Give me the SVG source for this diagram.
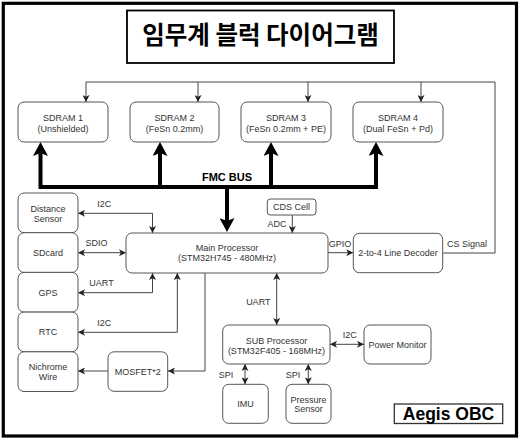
<svg xmlns="http://www.w3.org/2000/svg" width="521" height="441" viewBox="0 0 521 441">
<style>
.box{fill:#fff;stroke:#555;stroke-width:1}
.t{font-family:"Liberation Sans",Arial,sans-serif;font-size:9px;fill:#333;text-anchor:middle}
.lbl{font-family:"Liberation Sans",Arial,sans-serif;font-size:9px;fill:#333;text-anchor:middle}
.ln{fill:none;stroke:#444;stroke-width:1}
.a{marker-end:url(#ah)}
.b{marker-start:url(#ah);marker-end:url(#ah)}
.bus{fill:none;stroke:#000;stroke-width:4;stroke-linejoin:miter}
</style>
<defs>
<marker id="ah" viewBox="0 0 10 10" refX="10" refY="5" markerWidth="7" markerHeight="7" markerUnits="userSpaceOnUse" orient="auto-start-reverse">
<path d="M0,0 L10,5 L0,10 L2.5,5 z" fill="#222"/>
</marker>
<marker id="big" viewBox="0 0 14 15" refX="3" refY="7.5" markerWidth="14" markerHeight="15" markerUnits="userSpaceOnUse" orient="auto-start-reverse">
<path d="M0,0 L14,7.5 L0,15 L3,7.5 z" fill="#000"/>
</marker>
</defs>
<rect width="521" height="441" fill="#fff"/>
<rect x="3.3" y="3.3" width="513.2" height="432.7" fill="none" stroke="#000" stroke-width="3.2"/>
<g id="title">
<rect x="127" y="10.5" width="267" height="52.5" fill="#fff" stroke="#000" stroke-width="1.8"/>
<text x="260.5" y="43.5" font-family="'Noto Sans CJK KR','Noto Sans',sans-serif" font-size="24.5" font-weight="bold" text-anchor="middle" fill="#000">임무계 블럭 다이어그램</text>
</g>
<g id="connectors">
<path class="bus" d="M40.5,153 V187 H376 V153" marker-start="url(#big)" marker-end="url(#big)"/>
<path class="bus" d="M160,187 V153" marker-end="url(#big)"/>
<path class="bus" d="M271,187 V153" marker-end="url(#big)"/>
<path class="bus" d="M227,185 V221" marker-end="url(#big)"/>
<path class="ln" d="M443,253 H495 V82 H86"/>
<path class="ln a" d="M86,82 V102"/>
<path class="ln a" d="M198,82 V102"/>
<path class="ln a" d="M308,82 V102"/>
<path class="ln a" d="M421,82 V102"/>
<path class="ln b" d="M78,213.3 H152.5 V233"/>
<path class="ln b" d="M78,252.7 H126"/>
<path class="ln b" d="M78,292.7 H152.5 V273"/>
<path class="ln b" d="M78,332.3 H177.3 V273"/>
<path class="ln a" d="M205,273 V371 H168"/>
<path class="ln a" d="M108,371 H78"/>
<path class="ln a" d="M292.3,215 V233"/>
<path class="ln a" d="M328,252.7 H353.3"/>
<path class="ln b" d="M276.7,273 V325"/>
<path class="ln b" d="M330,344.3 H364"/>
<path class="ln b" d="M245,364 V384.3"/>
<path class="ln b" d="M308.3,364 V384.3"/>
<text class="lbl" x="227" y="181" font-size="11" font-weight="bold" fill="#000" style="font-size:11px;font-weight:bold;fill:#000">FMC BUS</text>
<text class="lbl" x="104.3" y="206.5">I2C</text>
<text class="lbl" x="96.5" y="246.3">SDIO</text>
<text class="lbl" x="101.5" y="286">UART</text>
<text class="lbl" x="104.3" y="325.5">I2C</text>
<text class="lbl" x="277" y="226.5">ADC</text>
<text class="lbl" x="340" y="246.5">GPIO</text>
<text class="lbl" x="467" y="246.5">CS Signal</text>
<text class="lbl" x="258.3" y="305">UART</text>
<text class="lbl" x="349.7" y="338">I2C</text>
<text class="lbl" x="226" y="378">SPI</text>
<text class="lbl" x="293" y="378">SPI</text>
</g>
<g id="sdram1"><rect class="box" x="18" y="102" width="90" height="40" rx="6"/><text class="t" x="63" y="121">SDRAM 1</text><text class="t" x="63" y="131.5">(Unshielded)</text></g>
<g id="sdram2"><rect class="box" x="130" y="102" width="89" height="40" rx="6"/><text class="t" x="174.5" y="121">SDRAM 2</text><text class="t" x="174.5" y="131.5">(FeSn 0.2mm)</text></g>
<g id="sdram3"><rect class="box" x="241" y="102" width="90" height="40" rx="6"/><text class="t" x="286" y="121">SDRAM 3</text><text class="t" x="286" y="131.5">(FeSn 0.2mm + PE)</text></g>
<g id="sdram4"><rect class="box" x="353" y="102" width="90" height="40" rx="6"/><text class="t" x="398" y="121">SDRAM 4</text><text class="t" x="398" y="131.5">(Dual FeSn + Pd)</text></g>
<g id="distance"><rect class="box" x="18" y="193" width="60" height="39.7" rx="6"/><text class="t" x="48" y="211.5">Distance</text><text class="t" x="48" y="221.5">Sensor</text></g>
<g id="sdcard"><rect class="box" x="18" y="232.7" width="60" height="39.7" rx="6"/><text class="t" x="48" y="255.8">SDcard</text></g>
<g id="gps"><rect class="box" x="18" y="272.4" width="60" height="39.7" rx="6"/><text class="t" x="48" y="295.5">GPS</text></g>
<g id="rtc"><rect class="box" x="18" y="312.1" width="60" height="39.7" rx="6"/><text class="t" x="48" y="335.2">RTC</text></g>
<g id="nichrome"><rect class="box" x="18" y="351.8" width="60" height="39.7" rx="6"/><text class="t" x="48" y="369.8">Nichrome</text><text class="t" x="48" y="379.6">Wire</text></g>
<g id="mosfet"><rect class="box" x="108" y="351.8" width="59.7" height="39.5" rx="6"/><text class="t" x="137.8" y="374.7">MOSFET*2</text></g>
<g id="main"><rect class="box" x="126" y="233" width="202" height="40" rx="6"/><text class="t" x="227" y="251">Main Processor</text><text class="t" x="227" y="261">(STM32H745 - 480MHz)</text></g>
<g id="cds"><rect class="box" x="267.3" y="199" width="48.7" height="16" rx="3"/><text class="t" x="291.6" y="210.3">CDS Cell</text></g>
<g id="decoder"><rect class="box" x="353.3" y="233.3" width="89.4" height="39.4" rx="6"/><text class="t" x="398" y="256.2">2-to-4 Line Decoder</text></g>
<g id="sub"><rect class="box" x="222.7" y="325" width="107.3" height="39" rx="6"/><text class="t" x="276.4" y="343.7">SUB Processor</text><text class="t" x="276.4" y="353.7">(STM32F405 - 168MHz)</text></g>
<g id="power"><rect class="box" x="364" y="325" width="67" height="39" rx="6"/><text class="t" x="397.5" y="347.7">Power Monitor</text></g>
<g id="imu"><rect class="box" x="222.7" y="384.3" width="45.6" height="39" rx="6"/><text class="t" x="245.5" y="407">IMU</text></g>
<g id="pressure"><rect class="box" x="286" y="384.3" width="45" height="39" rx="6"/><text class="t" x="308.5" y="402.5">Pressure</text><text class="t" x="308.5" y="412">Sensor</text></g>
<g id="aegis"><rect x="394.3" y="404" width="108.4" height="19.5" fill="#fff" stroke="#333" stroke-width="1.3"/><text x="448.5" y="420" font-family="'Liberation Sans',Arial,sans-serif" font-size="17.5" font-weight="bold" text-anchor="middle" fill="#000">Aegis OBC</text></g>
</svg>
